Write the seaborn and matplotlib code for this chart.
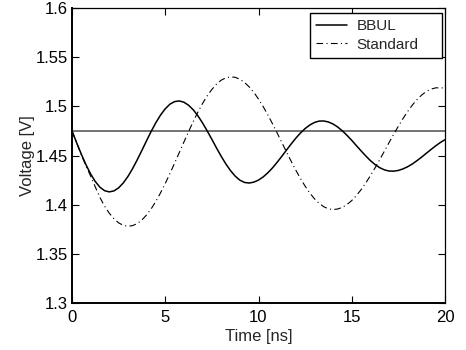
import matplotlib
matplotlib.use("Agg")
import matplotlib.pyplot as plt
import seaborn as sns
import pandas as pd
import numpy as np
from matplotlib.ticker import FuncFormatter

# Time axis [ns], sampled every 0.25 ns
time_ns = [i * 0.25 for i in range(81)]

bbul = [
    1.4750, 1.4629, 1.4513, 1.4406, 1.4312, 1.4235, 1.4177, 1.4142,
    1.4130, 1.4140, 1.4171, 1.4221, 1.4287, 1.4367, 1.4457, 1.4553,
    1.4651, 1.4747, 1.4835, 1.4912, 1.4975, 1.5022, 1.5048, 1.5055,
    1.5042, 1.5011, 1.4965, 1.4904, 1.4831, 1.4750, 1.4664, 1.4576,
    1.4492, 1.4414, 1.4346, 1.4290, 1.4249, 1.4226, 1.4220, 1.4229,
    1.4250, 1.4282, 1.4324, 1.4374, 1.4431, 1.4492, 1.4555, 1.4617,
    1.4676, 1.4729, 1.4774, 1.4810, 1.4836, 1.4850, 1.4851, 1.4841,
    1.4820, 1.4789, 1.4750, 1.4704, 1.4654, 1.4600, 1.4547, 1.4496,
    1.4448, 1.4408, 1.4376, 1.4354, 1.4342, 1.4341, 1.4348, 1.4364,
    1.4386, 1.4414, 1.4448, 1.4484, 1.4523, 1.4561, 1.4598, 1.4632,
    1.4661,
]

standard = [
    1.4750, 1.4628, 1.4508, 1.4395, 1.4290, 1.4180, 1.4072, 1.3984,
    1.3913, 1.3857, 1.3815, 1.3790, 1.3780, 1.3787, 1.3808, 1.3845,
    1.3896, 1.3959, 1.4035, 1.4121, 1.4215, 1.4316, 1.4421, 1.4529,
    1.4637, 1.4743, 1.4845, 1.4941, 1.5029, 1.5107, 1.5172, 1.5226,
    1.5266, 1.5290, 1.5300, 1.5295, 1.5276, 1.5243, 1.5198, 1.5142,
    1.5074, 1.4998, 1.4913, 1.4823, 1.4729, 1.4633, 1.4536, 1.4442,
    1.4351, 1.4266, 1.4188, 1.4119, 1.4060, 1.4014, 1.3979, 1.3957,
    1.3950, 1.3956, 1.3973, 1.4002, 1.4042, 1.4093, 1.4152, 1.4220,
    1.4295, 1.4374, 1.4458, 1.4544, 1.4631, 1.4716, 1.4798, 1.4876,
    1.4948, 1.5013, 1.5069, 1.5115, 1.5151, 1.5175, 1.5188, 1.5189,
    1.5185,
]

reference_level = 1.475
series_names = ["BBUL", "Standard"]
x_ticks = [0, 5, 10, 15, 20]
y_ticks = [1.3, 1.35, 1.4, 1.45, 1.5, 1.55, 1.6]

sns.set_style("ticks")
plt.rcParams["font.family"] = ["Liberation Sans", "DejaVu Sans"]

df = pd.DataFrame({"t": time_ns, "BBUL": bbul, "Standard": standard})

fig = plt.figure(figsize=(4.66, 3.5), dpi=100)
ax = fig.add_axes([72 / 466, 1 - 303 / 350, 373 / 466, 295 / 350])

ax.axhline(reference_level, color="0.3", lw=1.1, zorder=1)
sns.lineplot(data=df, x="t", y="BBUL", ax=ax, color="black", lw=1.1,
             label=series_names[0], zorder=3)
sns.lineplot(data=df, x="t", y="Standard", ax=ax, color="black", lw=0.8,
             linestyle=(0, (6, 3, 1, 3)), label=series_names[1], zorder=2)

ax.set_xlim(0, 20)
ax.set_ylim(1.3, 1.6)
ax.set_xticks(x_ticks)
ax.set_yticks(y_ticks)
ax.yaxis.set_major_formatter(FuncFormatter(lambda v, p: "%g" % round(v, 2)))
ax.xaxis.set_major_formatter(FuncFormatter(lambda v, p: "%g" % v))
ax.tick_params(direction="in", length=5, width=0.8, labelsize=12,
               top=True, right=True, colors="black")
ax.tick_params(axis="y", pad=3)
ax.tick_params(axis="x", pad=5)

for side in ["left", "bottom"]:
    ax.spines[side].set_linewidth(1.4)
for side in ["top", "right"]:
    ax.spines[side].set_linewidth(0.9)
for s in ax.spines.values():
    s.set_color("black")

ax.set_xlabel("Time [ns]", fontsize=12)
ax.set_ylabel("Voltage [V]", fontsize=12)
ax.xaxis.set_label_coords(0.5, -0.088)
ax.yaxis.set_label_coords(-0.10, 0.5)

leg = ax.legend(loc="upper left", bbox_to_anchor=(0.638, 0.983, 0.354, 0.0),
                mode="expand", fontsize=11, frameon=True, fancybox=False,
                borderaxespad=0.0, handlelength=2.0, handletextpad=0.65,
                borderpad=0.4, labelspacing=0.3)
leg.get_frame().set_edgecolor("black")
leg.get_frame().set_linewidth(1.0)
leg.get_frame().set_alpha(1)

fig.savefig("out.png", dpi=100)
